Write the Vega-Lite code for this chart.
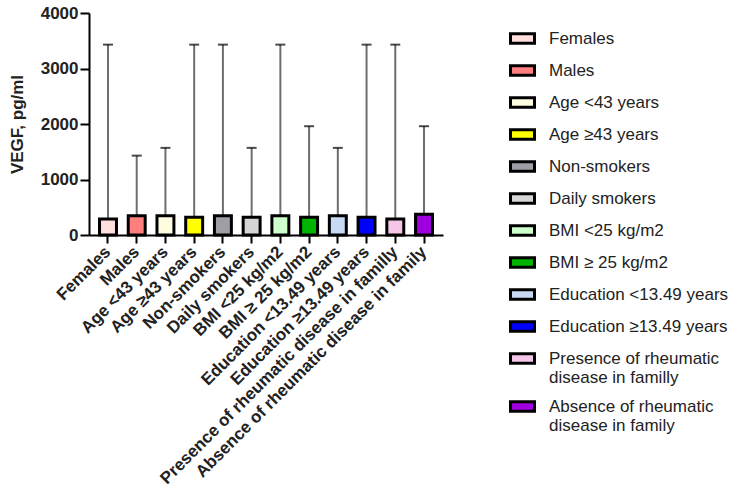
{
  "$schema": "https://vega.github.io/schema/vega-lite/v6.json",
  "autosize": {"type": "none"},
  "padding": {"left": 89, "top": 13, "right": 313, "bottom": 253},
  "width": 354,
  "height": 222,
  "background": "white",
  "config": {
    "view": {"stroke": null},
    "font": "Liberation Sans"
  },
  "data": {
    "values": [
      {"group": "Females", "vegf": 290, "upper": 3430},
      {"group": "Males", "vegf": 345, "upper": 1430},
      {"group": "Age <43 years", "vegf": 345, "upper": 1570},
      {"group": "Age ≥43 years", "vegf": 320, "upper": 3430},
      {"group": "Non-smokers", "vegf": 345, "upper": 3430},
      {"group": "Daily smokers", "vegf": 320, "upper": 1570},
      {"group": "BMI <25 kg/m2", "vegf": 345, "upper": 3430},
      {"group": "BMI ≥ 25 kg/m2", "vegf": 320, "upper": 1960},
      {"group": "Education <13.49 years", "vegf": 345, "upper": 1570},
      {"group": "Education ≥13.49 years", "vegf": 320, "upper": 3430},
      {"group": "Presence of rheumatic disease in familly", "vegf": 290, "upper": 3430},
      {"group": "Absence of rheumatic disease in family", "vegf": 375, "upper": 1960}
    ]
  },
  "encoding": {
    "x": {
      "field": "group",
      "type": "nominal",
      "sort": null,
      "scale": {"paddingInner": 0.41, "paddingOuter": 0.366},
      "axis": {
        "title": null,
        "labelAngle": -45,
        "labelAlign": "right",
        "labelBaseline": "middle",
        "labelFontSize": 17,
        "labelFontWeight": "bold",
        "labelColor": "#222222",
        "labelPadding": 6,
        "labelLimit": 400,
        "domainColor": "black",
        "domainWidth": 2,
        "tickColor": "black",
        "tickWidth": 2,
        "tickSize": 8
      }
    }
  },
  "layer": [
    {
      "mark": {"type": "rule", "color": "#6e6e6e", "strokeWidth": 2},
      "encoding": {
        "y": {
          "field": "vegf",
          "type": "quantitative",
          "scale": {"domain": [0, 4000], "nice": false},
          "axis": {
            "title": "VEGF, pg/ml",
            "titleFontSize": 17,
            "titleFontWeight": "bold",
            "titleColor": "#222222",
            "titlePadding": 14,
            "values": [0, 1000, 2000, 3000, 4000],
            "format": "d",
            "grid": false,
            "labelFontSize": 17,
            "labelFontWeight": "bold",
            "labelColor": "#222222",
            "labelPadding": 2,
            "domainColor": "black",
            "domainWidth": 2,
            "tickColor": "black",
            "tickWidth": 2,
            "tickSize": 9
          }
        },
        "y2": {"field": "upper"}
      }
    },
    {
      "mark": {"type": "tick", "color": "black", "thickness": 2, "size": 10},
      "encoding": {
        "y": {"field": "upper", "type": "quantitative"}
      }
    },
    {
      "mark": {"type": "bar", "stroke": "black", "strokeWidth": 3},
      "encoding": {
        "y": {"field": "vegf", "type": "quantitative"},
        "fill": {
          "field": "group",
          "type": "nominal",
          "sort": null,
          "scale": {
            "domain": [
              "Females", "Males", "Age <43 years", "Age ≥43 years", "Non-smokers", "Daily smokers",
              "BMI <25 kg/m2", "BMI ≥ 25 kg/m2", "Education <13.49 years", "Education ≥13.49 years",
              "Presence of rheumatic disease in familly", "Absence of rheumatic disease in family"
            ],
            "range": [
              "#FFDEDE", "#FF7F7F", "#FFFDE0", "#FFFF00", "#9E9EA6", "#D6D6D6",
              "#CCFFCC", "#00B400", "#C6DAF4", "#0000FF", "#F6C6E8", "#A000E0"
            ]
          },
          "legend": {
            "title": null,
            "orient": "none",
            "legendX": 420,
            "legendY": 12,
            "padding": 0,
            "symbolType": "M-1,-0.4H1V0.4H-1Z",
            "symbolSize": 576,
            "symbolStrokeColor": "black",
            "symbolStrokeWidth": 3,
            "symbolOpacity": 1,
            "labelFontSize": 17,
            "labelColor": "#222222",
            "labelOffset": 13,
            "labelLimit": 300,
            "rowPadding": 7,
            "labelExpr": "datum.label == 'Presence of rheumatic disease in familly' ? ['Presence of rheumatic', 'disease in familly'] : datum.label == 'Absence of rheumatic disease in family' ? ['Absence of rheumatic', 'disease in family'] : datum.label"
          }
        }
      }
    }
  ]
}
